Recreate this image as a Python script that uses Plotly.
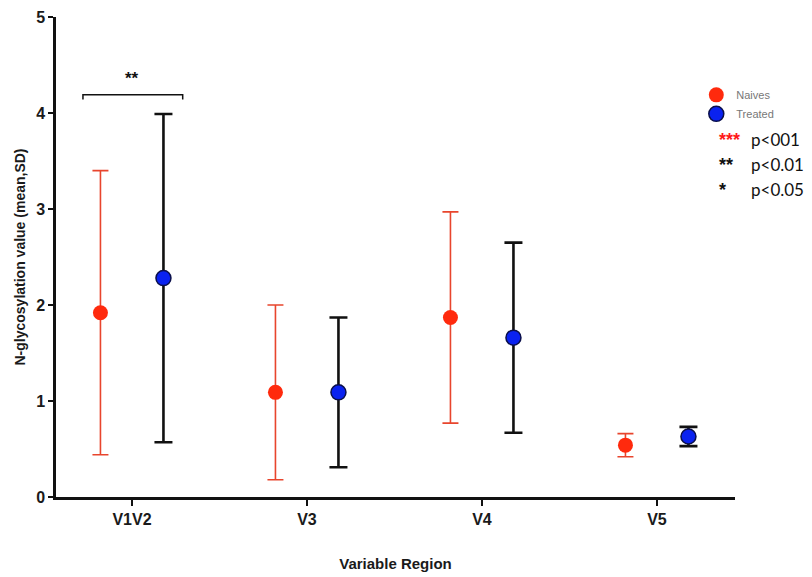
import plotly.graph_objects as go

# Variable regions and N-glycosylation summary (mean and SD)
regions = ["V1V2", "V3", "V4", "V5"]
naive_mean = [1.92, 1.09, 1.87, 0.54]
naive_sd = [1.48, 0.91, 1.10, 0.12]
treated_mean = [2.28, 1.09, 1.66, 0.63]
treated_sd = [1.71, 0.78, 0.99, 0.10]
y_ticks = [0, 1, 2, 3, 4, 5]

offset = 0.18
pos = list(range(len(regions)))

fig = go.Figure()
fig.add_trace(go.Scatter(
    x=[p - offset for p in pos], y=naive_mean, mode="markers", name="Naives",
    marker=dict(size=15, color="#ff2a0d", line=dict(width=0)),
    error_y=dict(type="data", array=naive_sd, visible=True, color="#e8452d",
                 thickness=1.6, width=8),
))
fig.add_trace(go.Scatter(
    x=[p + offset for p in pos], y=treated_mean, mode="markers", name="Treated",
    marker=dict(size=15, color="#0a22f0", line=dict(width=1.5, color="#0a0f4a")),
    error_y=dict(type="data", array=treated_sd, visible=True, color="#111111",
                 thickness=2.6, width=9),
))

# significance bracket over V1V2
fig.add_shape(type="path", xref="x", yref="y",
              path="M -0.28,4.14 L -0.28,4.19 L 0.29,4.19 L 0.29,4.14",
              line=dict(color="#111111", width=1.5))
fig.add_annotation(x=0.0, y=4.36, xref="x", yref="y", text="<b>**</b>",
                   showarrow=False, font=dict(size=17, color="#111111",
                                              family="Liberation Sans"))

# p-value key
key_rows = [("***", "#ff1a1a", "p<001", 0.744),
            ("**", "#111111", "p<0.01", 0.692),
            ("*", "#111111", "p<0.05", 0.640)]
for stars, col, label, yy in key_rows:
    fig.add_annotation(x=0.9735, y=yy, xref="paper", yref="paper", text=f"<b>{stars}</b>",
                       xanchor="left", yanchor="middle", showarrow=False,
                       font=dict(size=18, color=col, family="Liberation Sans"))
    fig.add_annotation(x=1.021, y=yy, xref="paper", yref="paper", text=label,
                       xanchor="left", yanchor="middle", showarrow=False,
                       font=dict(size=17, color="#111111", family="Lato"))

fig.update_layout(
    width=812, height=577,
    margin=dict(l=56, r=77, t=17, b=80),
    paper_bgcolor="white", plot_bgcolor="white",
    showlegend=True,
    legend=dict(x=0.943, y=0.868, xanchor="left", yanchor="top",
                font=dict(size=11, color="#777777", family="Liberation Sans"),
                bgcolor="rgba(0,0,0,0)", tracegroupgap=0, itemwidth=30),
    xaxis=dict(range=[-0.434, 3.446], tickmode="array", tickvals=pos, ticktext=regions,
               automargin=False,
               showline=True, linecolor="#111111", linewidth=2.5, ticks="outside",
               ticklen=6, tickwidth=1.5, tickcolor="#111111", showgrid=False,
               zeroline=False,
               tickfont=dict(size=16, color="#1a1a1a", family="Liberation Sans",
                             weight="bold"),
               title=dict(text="Variable Region", standoff=32,
                          font=dict(size=15, color="#1a1a1a",
                                    family="Liberation Sans", weight="bold"))),
    yaxis=dict(range=[0, 5], tickmode="array", tickvals=y_ticks,
               automargin=False,
               showline=True, linecolor="#111111", linewidth=2.5, ticks="outside",
               ticklen=5, tickwidth=1.5, tickcolor="#111111", showgrid=False,
               zeroline=False,
               tickfont=dict(size=16, color="#1a1a1a", family="Liberation Sans",
                             weight="bold"),
               title=dict(text="N-glycosylation value (mean,SD)", standoff=8,
                          font=dict(size=14, color="#1a1a1a", family="Liberation Sans",
                                    weight="bold"))),
)

fig.write_html("out.html")
